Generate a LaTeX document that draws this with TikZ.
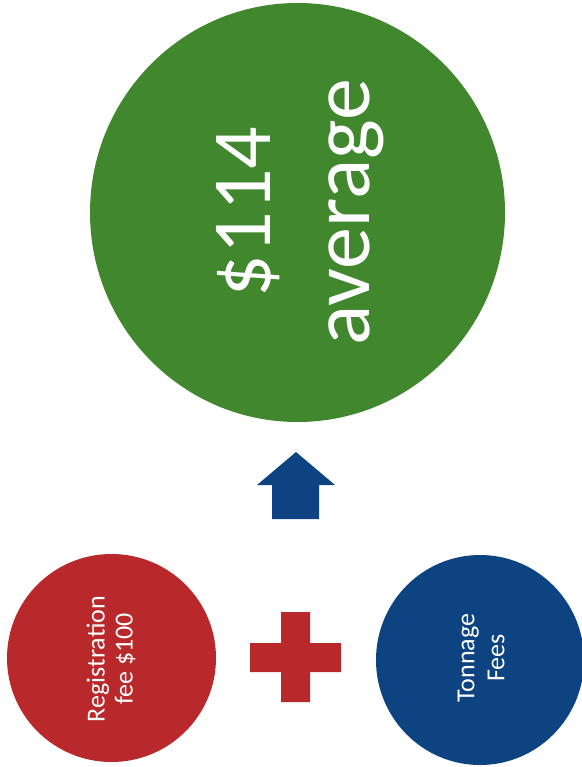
\documentclass[tikz,border=0pt]{standalone}
\usepackage{fontspec}
\setmainfont{Carlito}
\definecolor{bigGreen}{RGB}{64,135,45}
\definecolor{feeRed}{RGB}{185,40,42}
\definecolor{feeBlue}{RGB}{12,67,128}
\begin{document}
\begin{tikzpicture}[x=1pt,y=-1pt,
  blob/.style={ellipse, inner sep=0pt},
  bigtext/.style={text=white, align=center, rotate=90, font=\fontsize{84}{99}\selectfont},
  smalltext/.style={text=white, align=center, rotate=90, font=\fontsize{26}{28}\selectfont}]
\useasboundingbox (0,0) rectangle (581,767);
% circles
\fill[bigGreen] (297.5,212.5) ellipse [x radius=207.5, y radius=209.5];
\fill[feeRed] (111.5,658) ellipse [x radius=104.5, y radius=104];
\fill[feeBlue] (480,660) ellipse [x radius=104, y radius=105];
% texts
\node[bigtext] (total) at (300,212) {\$114\\average};
\node[smalltext] (reg) at (111,659) {Registration\\fee \$100};
\node[smalltext, font=\fontsize{26}{30}\selectfont] (ton) at (481,658) {Tonnage\\Fees};
% up arrow
\fill[feeBlue] (296,452) -- (335,485) -- (319,485) -- (319,519) -- (272,519) -- (272,485) -- (257,485) -- cycle;
% plus sign
\fill[feeRed] (281,612) -- (310,612) -- (310,643) -- (341,643) -- (341,672) -- (310,672) -- (310,702) -- (281,702) -- (281,672) -- (250,672) -- (250,643) -- (281,643) -- cycle;
\end{tikzpicture}
\end{document}
